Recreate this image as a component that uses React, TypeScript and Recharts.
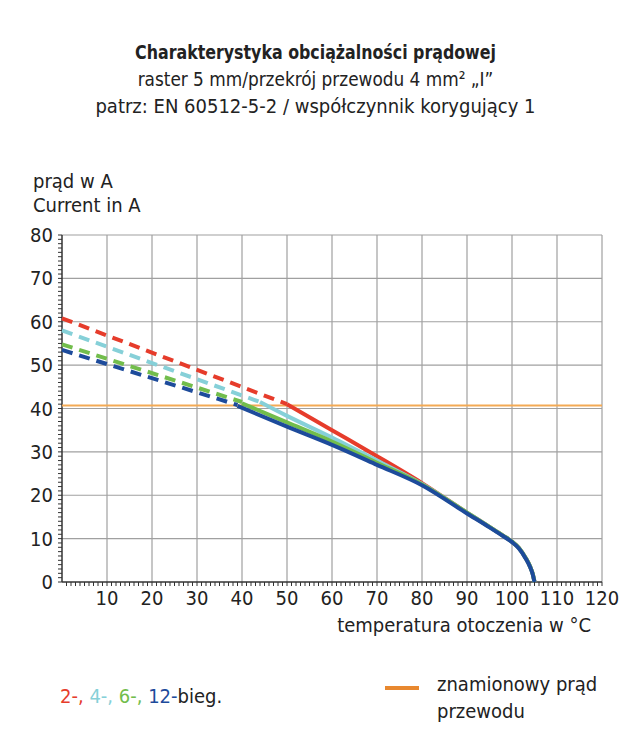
import React from "react";
import { LineChart, Line, XAxis, YAxis, ReferenceLine } from "recharts";

const FONT = '"DejaVu Sans Condensed", "Liberation Sans Narrow", Roboto, sans-serif';

// tick labels
const xMajor = [10, 20, 30, 40, 50, 60, 70, 80, 90, 100, 110, 120];
const yMajor = [0, 10, 20, 30, 40, 50, 60, 70, 80];

// common tail of all curves (they merge from ~80 °C on)
const tail = [
  { x: 90, y: 16 },
  { x: 95, y: 12.7 },
  { x: 98, y: 10.7 },
  { x: 100, y: 9.3 },
  { x: 101.5, y: 7.9 },
  { x: 103, y: 5.6 },
  { x: 104, y: 3.6 },
  { x: 104.6, y: 1.9 },
  { x: 105, y: 0 },
];

// 2-bieg. (red)
const red2Dashed = [
  { x: 0, y: 60.8 },
  { x: 50, y: 41 },
];
const red2Solid = [
  { x: 50, y: 41 },
  { x: 60, y: 35 },
  { x: 70, y: 29 },
  { x: 80, y: 22.8 },
  ...tail,
];

// 4-bieg. (cyan)
const cyan4Dashed = [
  { x: 0, y: 58 },
  { x: 44, y: 41.5 },
];
const cyan4Solid = [
  { x: 44, y: 41.5 },
  { x: 50, y: 38.3 },
  { x: 60, y: 33.3 },
  { x: 70, y: 28 },
  { x: 80, y: 22.6 },
  ...tail,
];

// 6-bieg. (green)
const green6Dashed = [
  { x: 0, y: 54.8 },
  { x: 40, y: 41.5 },
];
const green6Solid = [
  { x: 40, y: 41.2 },
  { x: 50, y: 36.8 },
  { x: 60, y: 32.4 },
  { x: 70, y: 27.5 },
  { x: 80, y: 22.5 },
  ...tail,
];

// 12-bieg. (blue)
const blue12Dashed = [
  { x: 0, y: 53.5 },
  { x: 39, y: 40.8 },
];
const blue12Solid = [
  { x: 39, y: 40.6 },
  { x: 50, y: 35.8 },
  { x: 60, y: 31.6 },
  { x: 70, y: 27 },
  { x: 80, y: 22.3 },
  { x: 90, y: 15.8 },
  { x: 95, y: 12.6 },
  { x: 98, y: 10.6 },
  { x: 100, y: 9.2 },
  { x: 101.5, y: 7.8 },
  { x: 103, y: 5.5 },
  { x: 104, y: 3.5 },
  { x: 104.6, y: 1.8 },
  { x: 105, y: 0 },
];

const ratedCurrent = 40.7;

const RED = "#e63c2b";
const CYAN = "#86d0d8";
const GREEN = "#72bd4c";
const BLUE = "#1d4b9b";
const ORANGE = "#f3aa55";
const GRID = "#a0a0a0";
const AXIS = "#333";

const xTicks = Array.from({ length: 121 }, (_, i) => i);
const yTicks = Array.from({ length: 81 }, (_, i) => i);

const XTick = (props: any) => {
  const { x, y, payload } = props;
  const v = payload.value;
  return (
    <g>
      {v > 0 && <line x1={x} x2={x} y1={y - 8} y2={y - 4} stroke={AXIS} strokeWidth={1} />}
      {v > 0 && xMajor.includes(v) && (
        <text x={x} y={y + 15} textAnchor="middle" fontSize={20} fontFamily={FONT} fill="#222">
          {v}
        </text>
      )}
    </g>
  );
};

const YTick = (props: any) => {
  const { x, y, payload } = props;
  const v = payload.value;
  return (
    <g>
      <line x1={x + 4} x2={x + 8} y1={y} y2={y} stroke={AXIS} strokeWidth={1} />
      {yMajor.includes(v) && (
        <text x={x - 1} y={y + 7} textAnchor="end" fontSize={20} fontFamily={FONT} fill="#222">
          {v}
        </text>
      )}
    </g>
  );
};

const series = [
  { dashed: red2Dashed, solid: red2Solid, color: RED },
  { dashed: cyan4Dashed, solid: cyan4Solid, color: CYAN },
  { dashed: green6Dashed, solid: green6Solid, color: GREEN },
  { dashed: blue12Dashed, solid: blue12Solid, color: BLUE },
];

export default function App() {
  const text: React.CSSProperties = { position: "absolute", fontFamily: FONT, color: "#222", whiteSpace: "nowrap" };
  return (
    <div style={{ position: "absolute", left: 0, top: 0, width: 631, height: 740, background: "#fff" }}>
      <div style={{ ...text, left: 0, width: 631, top: 39, textAlign: "center", fontSize: 20, lineHeight: "27px" }}>
        <div style={{ fontWeight: "bold", transform: "scaleX(0.88)" }}>Charakterystyka obciążalności prądowej</div>
        <div style={{ transform: "scaleX(0.94)" }}>raster 5 mm/przekrój przewodu 4 mm² „I”</div>
        <div>patrz: EN 60512-5-2 / współczynnik korygujący 1</div>
      </div>
      <div style={{ ...text, left: 33, top: 169, fontSize: 20, lineHeight: "24px" }}>
        <div>prąd w A</div>
        <div>Current in A</div>
      </div>

      <LineChart width={631} height={740} margin={{ top: 235, right: 29, bottom: 128, left: 12 }}>
        <XAxis
          type="number"
          dataKey="x"
          domain={[0, 120]}
          ticks={xTicks}
          interval={0}
          tickLine={false}
          tick={<XTick />}
          axisLine={false}
          height={30}
        />
        <YAxis
          type="number"
          dataKey="y"
          domain={[0, 80]}
          ticks={yTicks}
          interval={0}
          tickLine={false}
          tick={<YTick />}
          axisLine={false}
          width={50}
        />
        {xMajor.map((v) => (
          <ReferenceLine key={"gx" + v} x={v} stroke={GRID} strokeWidth={1.2} />
        ))}
        {yMajor.filter((v) => v > 0).map((v) => (
          <ReferenceLine key={"gy" + v} y={v} stroke={GRID} strokeWidth={1.2} />
        ))}
        <ReferenceLine x={0} stroke={AXIS} strokeWidth={1.5} />
        <ReferenceLine y={0} stroke={AXIS} strokeWidth={1.5} />
        <ReferenceLine y={ratedCurrent} stroke={ORANGE} strokeWidth={2} />
        {series.map((s, i) => (
          <Line
            key={"d" + i}
            data={s.dashed}
            dataKey="y"
            type="linear"
            stroke={s.color}
            strokeWidth={4}
            strokeDasharray="11 7"
            dot={false}
            isAnimationActive={false}
          />
        ))}
        {series.map((s, i) => (
          <Line
            key={"s" + i}
            data={s.solid}
            dataKey="y"
            type="monotone"
            stroke={s.color}
            strokeWidth={4}
            dot={false}
            isAnimationActive={false}
          />
        ))}
      </LineChart>

      <div style={{ ...text, right: 40, top: 613, fontSize: 20 }}>temperatura otoczenia w °C</div>

      <div style={{ ...text, left: 60, top: 684, fontSize: 20 }}>
        <span style={{ color: RED }}>2-, </span>
        <span style={{ color: CYAN }}>4-, </span>
        <span style={{ color: GREEN }}>6-, </span>
        <span style={{ color: BLUE }}>12-</span>
        <span>bieg.</span>
      </div>
      <div style={{ position: "absolute", left: 385, top: 686, width: 34, height: 4, background: "#e8882f" }} />
      <div style={{ ...text, left: 437, top: 671, fontSize: 20, lineHeight: "27px" }}>
        <div>znamionowy prąd</div>
        <div>przewodu</div>
      </div>
    </div>
  );
}
